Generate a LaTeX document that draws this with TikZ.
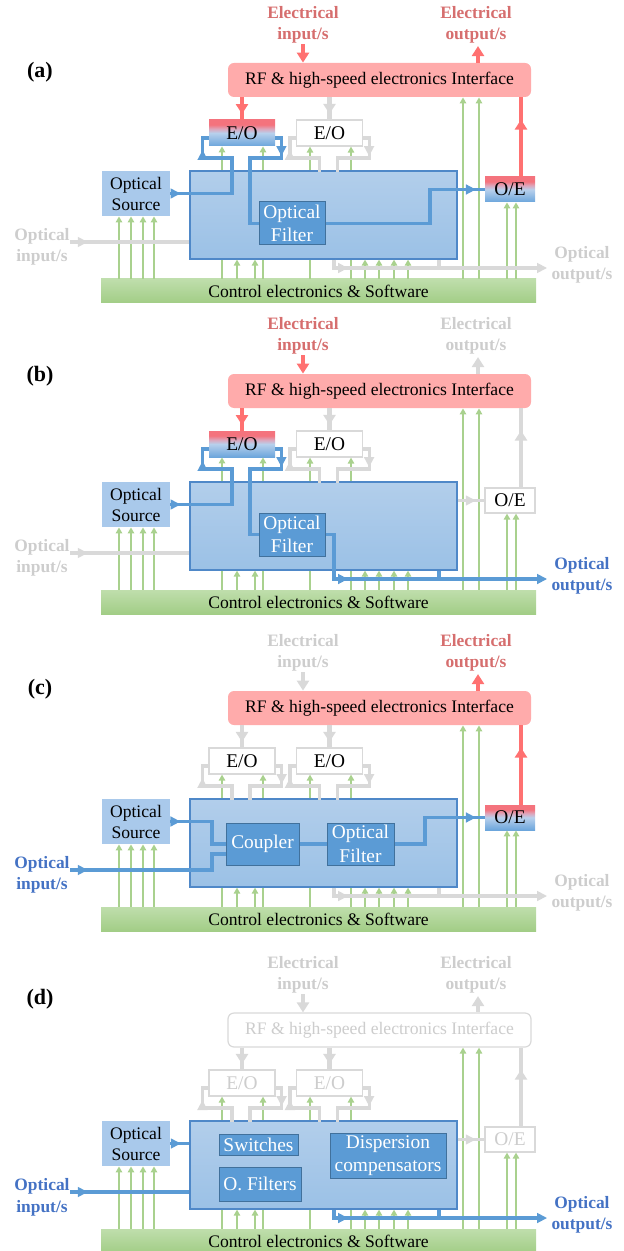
\documentclass[tikz,border=0pt]{standalone}
\usepackage{fontspec}
\setmainfont{Liberation Serif}
\usepackage{xcolor}
\definecolor{el-red}{HTML}{FF7171}
\definecolor{el-text}{HTML}{D66E6E}
\definecolor{rf-pink}{HTML}{FFABAB}
\definecolor{off-gray}{HTML}{D9D9D9}
\definecolor{off-text}{HTML}{CDCDCD}
\definecolor{chip-top}{HTML}{B2CEEB}
\definecolor{chip-bottom}{HTML}{9BC1E6}
\definecolor{chip-line}{HTML}{4F88C8}
\definecolor{src-blue}{HTML}{A9C9EB}
\definecolor{block-blue}{HTML}{5B9BD5}
\definecolor{block-line}{HTML}{41719C}
\definecolor{opt-blue}{HTML}{5B9BD5}
\definecolor{opt-text}{HTML}{4472C4}
\definecolor{ctl-green}{HTML}{A9D18E}
\definecolor{bar-top}{HTML}{BFDEAC}
\definecolor{bar-bottom}{HTML}{A2CD86}
\definecolor{eo-red}{HTML}{F4737D}
\definecolor{eo-pink}{HTML}{DDA6BC}
\definecolor{eo-mid}{HTML}{B8D0EC}
\definecolor{eo-blue}{HTML}{6CA6DC}
\usepackage{tikz}
\usetikzlibrary{arrows.meta,decorations.markings}
\pgfdeclareverticalshading{eo-shade}{100bp}{color(0bp)=(eo-blue); color(25bp)=(eo-blue); color(50bp)=(eo-mid); color(58bp)=(eo-pink); color(66bp)=(eo-red); color(100bp)=(eo-red)}
\tikzset{
    bigtip/.tip={Triangle[length=5pt,width=6pt]},
    fibtip/.tip={Triangle[length=5pt,width=4.8pt]},
    ctltip/.tip={Triangle[length=3pt,width=3.2pt]},
    tipat/.style 2 args={postaction={decorate,decoration={markings,mark=at position #1 with {\arrow{#2}}}}},
    every node/.style={align=center, inner sep=0pt},
    panel tag/.style={font=\bfseries\fontsize{11}{13}\selectfont},
    lab/.style={font=\bfseries\fontsize{8.7}{10.8}\selectfont},
    redlab/.style={lab, text=el-text},
    graylab/.style={lab, text=off-text},
    bluelab/.style={lab, text=opt-text},
    redline/.style={draw=el-red, line width=2.4pt},
    grayline/.style={draw=off-gray, line width=2.4pt},
    bluefiber/.style={draw=opt-blue, line width=1.6pt},
    grayfiber/.style={draw=off-gray, line width=1.6pt},
    ctl/.style={draw=ctl-green, line width=1pt, -ctltip},
    chip/.style={top color=chip-top, bottom color=chip-bottom, draw=chip-line, line width=0.6pt, minimum width=133.5pt, minimum height=44pt},
    source/.style={fill=src-blue, minimum width=34pt, minimum height=22.5pt},
    ctlbar/.style={top color=bar-top, bottom color=bar-bottom, minimum width=217.5pt, minimum height=12pt},
    block/.style={fill=block-blue, draw=block-line, line width=0.5pt, text=white, font=\fontsize{9.7}{11.8}\selectfont},
    eo/.style={minimum width=33pt, minimum height=13pt, font=\fontsize{9.7}{11.5}\selectfont},
    rfon/.style={fill=rf-pink},
    rfdim/.style={fill=white, draw=off-gray, line width=0.6pt, text=off-text},
    eoon/.style={shade, shading=eo-shade},
    eooff/.style={fill=white, draw=off-gray, line width=0.6pt},
    eodim/.style={eooff, text=off-text},
    eopipeon/.style=redline, eopipeoff/.style=grayline, eopipedim/.style=grayline,
    eoporton/.style=bluefiber, eoportoff/.style=grayfiber, eoportdim/.style=grayfiber,
    % what is lit in a panel
    ein/.style={ein line/.style=#1line, ein lab/.style=#1lab},
    eout/.style={eout line/.style=#1line, eout lab/.style=#1lab},
    oin/.style={oin line/.style=#1fiber, oin lab/.style=#1lab},
    oout/.style={oout line/.style=#1fiber, oout lab/.style=#1lab},
    rf/.style={rf box/.style=rf#1},
    eoa/.style={eoa box/.style=eo#1, eoa pipe/.style=eopipe#1, eoa port/.style=eoport#1},
    eob/.style={eob box/.style=eo#1, eob pipe/.style=eopipe#1, eob port/.style=eoport#1},
    oe/.style={oe box/.style=eo#1, oe pipe/.style=eopipe#1, oe feed/.style=eoport#1}
}
% in/out loops of one E/O block
\newcommand\eoloops[1]{%
  \draw[#1 port, tipat={0.74}{fibtip}] ([xshift=-5pt,yshift=-12.5pt]#1.south) |- ([xshift=-3pt,yshift=-12.5pt]#1.west) |- ([yshift=-2.5pt]#1.west);
  \draw[#1 port, tipat={0.34}{fibtip}] ([yshift=-2.5pt]#1.east) -| ([xshift=3pt,yshift=-12.5pt]#1.east) -| ([xshift=4pt,yshift=-12.5pt]#1.south);
}
% common frame of every panel
\newcommand\chip[2]{%
  \node[panel tag] (tag) at (40,#2) {(#1)};
  \node[ein lab] (einl) at (303,25) {Electrical\\input/s};
  \node[eout lab] (eoutl) at (476,25) {Electrical\\output/s};
  \node[oin lab] (oinl) at (42,247) {Optical\\input/s};
  \node[oout lab] (ooutl) at (582,265) {Optical\\output/s};
  \node[rf box, rounded corners=3pt, minimum width=151.5pt, minimum height=17pt] (rf) at (379.5,80) {RF \& high-speed electronics Interface};
  \node[eoa box, eo] (eoa) at (242,133) {E/O};
  \node[eob box, eo] (eob) at (329.5,133) {E/O};
  \node[oe box, eo, minimum width=25pt, minimum height=12.5pt] (oe) at (510,189.5) {O/E};
  \node[source] (src) at (136,193.5) {Optical\\Source};
  \node[ctlbar] (bar) at (318.5,291) {Control electronics \& Software};
  \foreach \x in {119,131,143,154} \draw[ctl] (\x,0 |- bar.north) -- (\x,0 |- src.south);
  \foreach \x in {222,263} \draw[ctl] (\x,0 |- bar.north) -- (\x,0 |- eoa.south);
  \foreach \x in {310,351} \draw[ctl] (\x,0 |- bar.north) -- (\x,0 |- eob.south);
  \foreach \x in {463,479} \draw[ctl] (\x,0 |- bar.north) -- (\x,0 |- rf.south);
  \foreach \x in {507,516} \draw[ctl] (\x,0 |- bar.north) -- (\x,0 |- oe.south);
  \node[chip] (main) at (323.5,215) {};
  \foreach \x in {237,255,365,379,394,408} \draw[ctl] (\x,0 |- bar.north) -- (\x,0 |- main.south);
  \draw[ein line, -bigtip] (einl.south) -- (einl.south |- rf.north);
  \draw[eout line, -bigtip, shorten >=1pt] (478,0 |- rf.north) -- (478,0 |- eoutl.south);
  \draw[eoa pipe, tipat={0.75}{bigtip}] (rf.south -| eoa) -- (eoa);
  \draw[eob pipe, tipat={0.75}{bigtip}] (rf.south -| eob) -- (eob);
  \draw[oe pipe, tipat={0.72}{bigtip}] (521,0 |- oe.north) -- (521,0 |- rf.south);
  \eoloops{eoa}
  \eoloops{eob}
  \draw[oe feed, tipat={0.68}{fibtip}] (main.east |- oe.west) -- (oe.west);
  \draw[oin line, tipat={0.15}{fibtip}] (oinl.east |- 0,242) -- (main.west |- 0,242);
  \draw[oout line, -fibtip, shorten >=2pt, tipat={0.1}{fibtip}] (334,0 |- main.south) |- (ooutl.west |- 0,268);
  \draw[oout line] (439,0 |- main.south) -- (439,268);
}

\begin{document}
\begin{tikzpicture}[x=0.5pt, y=-0.5pt, font=\fontsize{8.8}{10.5}\selectfont]
  \useasboundingbox (0,0) rectangle (623,1251);

  % (a) electrical in -> optical filter -> electrical out
  \begin{scope}[name prefix=a-, ein=red, eout=red, oin=gray, oout=gray, rf=on, eoa=on, eob=off, oe=on]
    \chip{a}{72}
    \node[block, minimum width=33pt, minimum height=21.5pt] (filt) at (292,223.5) {Optical\\Filter};
    \draw[bluefiber, tipat={0.12}{fibtip}] (src.east) -| (232,0 |- main.north);
    \draw[bluefiber] (250,0 |- main.north) |- (filt.west);
    \draw[bluefiber] (filt.east) -| (430,0 |- oe.west) -- (oe.west);
  \end{scope}

  % (b) electrical in -> optical out
  \begin{scope}[shift={(0,311)}, name prefix=b-, ein=red, eout=gray, oin=gray, oout=blue, rf=on, eoa=on, eob=off, oe=off]
    \chip{b}{65}
    \node[block, minimum width=33pt, minimum height=21.5pt] (filt) at (292,223.5) {Optical\\Filter};
    \draw[bluefiber, tipat={0.12}{fibtip}] (src.east) -| (232,0 |- main.north);
    \draw[bluefiber] (250,0 |- main.north) |- (filt.west);
    \draw[bluefiber] (filt.east) -| (334,0 |- main.south);
  \end{scope}

  % (c) optical in -> electrical out
  \begin{scope}[shift={(0,628)}, name prefix=c-, ein=gray, eout=red, oin=blue, oout=gray, rf=on, eoa=off, eob=off, oe=on]
    \chip{c}{61}
    \node[block, minimum width=36.5pt, minimum height=21pt] (cpl) at (262.5,216) {Coupler};
    \node[block, minimum width=33.5pt, minimum height=21pt] (filt) at (360.5,216) {Optical\\Filter};
    \draw[bluefiber, tipat={0.13}{fibtip}] (src.east) -| (212,0 |- cpl.west) -- (cpl.west);
    \draw[bluefiber] (main.west |- 0,242) -| (212,226) -- ([yshift=-5pt]cpl.west);
    \draw[bluefiber] (cpl.east) -- (filt.west);
    \draw[bluefiber] (filt.east) -| (425,0 |- oe.west) -- (oe.west);
  \end{scope}

  % (d) optical in -> optical out
  \begin{scope}[shift={(0,950)}, name prefix=d-, ein=gray, eout=gray, oin=blue, oout=blue, rf=dim, eoa=dim, eob=dim, oe=dim]
    \chip{d}{49}
    \node[block, minimum width=39.5pt, minimum height=10.5pt] (sw) at (258.5,194.5) {Switches};
    \node[block, minimum width=41pt, minimum height=17pt] (of) at (260,234) {O. Filters};
    \node[block, minimum width=58pt, minimum height=22.5pt] (dc) at (388,205.5) {Dispersion\\compensators};
    \draw[bluefiber, tipat={0.55}{fibtip}] (src.east) -- (main.west |- src.east);
  \end{scope}
\end{tikzpicture}
\end{document}
